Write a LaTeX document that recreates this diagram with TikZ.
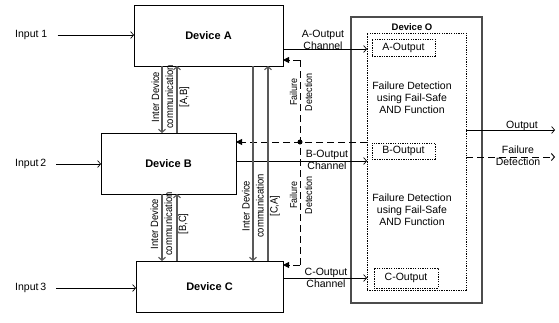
\documentclass[tikz,border=0pt]{standalone}
\usepackage{fontspec}
\setmainfont{Liberation Sans}
\newfontfamily\narrowfont[FakeStretch=0.9]{Liberation Sans}
\usetikzlibrary{arrows.meta}
\begin{document}
\begin{tikzpicture}[x=1pt,y=-1pt,
  dev/.style={draw, line width=0.8pt, rectangle, outer sep=0pt, inner sep=0pt, font=\fontsize{11}{13}\selectfont\bfseries},
  obox/.style={draw=black!70, line width=1.1pt, outer sep=0pt, inner sep=0pt},
  dotbox/.style={draw, dash pattern=on 1.3pt off 1.1pt, line width=0.75pt, outer sep=0pt, inner sep=0pt},
  lbl/.style={font=\fontsize{10.5}{12}\selectfont, align=center, inner sep=0pt},
  vlbl/.style={font=\narrowfont\fontsize{10.5}{14}\selectfont, align=center, rotate=90, inner sep=0pt},
  flbl/.style={font=\narrowfont\fontsize{10}{15}\selectfont, align=center, rotate=90, inner sep=0pt},
  arr/.style={line width=0.7pt, -{Straight Barb[length=3pt,width=7pt]}},
  comm/.style={draw=black!65, line width=1.1pt, -{Straight Barb[length=3pt,width=7pt]}},
  fdash/.style={line width=0.9pt, dash pattern=on 7pt off 4pt},
  ftip/.style={-{Triangle[length=6pt,width=6pt]}},
]
\useasboundingbox[fill=white] (0,0) rectangle (559,322);

% devices
\node[dev, minimum width=149pt, minimum height=61pt] (A) at (208.5,35.5) {Device A};
\node[dev, minimum width=135pt, minimum height=61pt] (B) at (168.5,163.5) {Device B};
\node[dev, minimum width=147pt, minimum height=51pt] (C) at (209.5,286.5) {Device C};

% device O
\node[obox, minimum width=131pt, minimum height=286pt] (O) at (416.5,160) {};
\node[dotbox, minimum width=99pt, minimum height=257pt] (Oin) at (416.5,161.5) {};
\node[font=\fontsize{9.5}{11}\selectfont\bfseries, inner sep=0pt] (Ot) at (412,27) {Device O};
\node[dotbox, lbl, minimum width=63pt, minimum height=17pt] (Aout) at (403.5,47.5) {A-Output};
\node[dotbox, lbl, minimum width=63pt, minimum height=16pt] (Bout) at (403.5,151) {B-Output};
\node[dotbox, lbl, minimum width=64pt, minimum height=20pt] (Cout) at (406,278) {C-Output};
\node[lbl] (fd1) at (412,98) {Failure Detection\\using Fail-Safe\\AND Function};
\node[lbl] (fd2) at (412,210) {Failure Detection\\using Fail-Safe\\AND Function};

% inputs
\node[lbl, anchor=west] (in1) at (15,35) {Input 1};
\node[lbl, anchor=west] (in2) at (15,164) {Input\,2};
\node[lbl, anchor=west] (in3) at (15,288) {Input\,3};
\draw[arr, shorten <=10pt] (in1.east) -- (A.west |- in1.east);
\draw[arr, shorten <=10pt] (in2.east) -- (B.west |- in2.east);
\draw[arr, shorten <=10pt] (in3.east) -- (C.west |- in3.east);

% output channels
\coordinate (ya) at (0,49);
\coordinate (yb) at (0,161);
\coordinate (yc) at (0,278);
\draw[arr] (A.east|-ya) -- (Oin.west|-ya);
\draw[arr] (B.east|-yb) -- (Oin.west|-yb);
\draw[arr] (C.east|-yc) -- (Oin.west|-yc);
\node[lbl] (la) at (323,39.5) {A-Output\\Channel};
\node[lbl] (lb) at (327,159.5) {B-Output\\Channel};
\node[lbl] (lc) at (326,278) {C-Output\\Channel};

% outputs of O
\coordinate (yo) at (555,130);
\coordinate (yf) at (555,157);
\draw[arr] (Oin.east|-yo) -- (yo);
\node[lbl, anchor=base] (lo) at (522,128) {Output};
\draw[arr, fdash] (Oin.east|-yf) -- (yf);
\node[lbl] (lf) at (518,156) {Failure\\Detection};

% failure detection feedback
\coordinate (fa) at (300,60);
\coordinate (fb) at (300,142);
\coordinate (fc) at (300,265);
\draw[fdash] (fa) -- (fc);
\draw[fdash, ftip] (fa) -- (A.east|-fa);
\draw[fdash, ftip] (fc) -- (C.east|-fc);
\draw[fdash, ftip] (Oin.west|-fb) -- (B.east|-fb);
\node[circle, fill, inner sep=0pt, minimum size=5pt] (dot) at (fb) {};
\node[flbl] (ff1) at (301,92) {Failure\\Detection};
\node[flbl] (ff2) at (301,195) {Failure\\Detection};

% inter device communication
\coordinate (x1) at (162,0);
\coordinate (x2) at (177,0);
\coordinate (x3) at (253,0);
\coordinate (x4) at (268,0);
\draw[comm] (A.south -| x1) -- (B.north -| x1);
\draw[comm] (B.north -| x2) -- (A.south -| x2);
\draw[comm] (B.south -| x1) -- (C.north -| x1);
\draw[comm] (C.north -| x2) -- (B.south -| x2);
\draw[comm] (A.south -| x3) -- (C.north -| x3);
\draw[comm] (C.north -| x4) -- (A.south -| x4);
\node[vlbl] (lab) at (170.5,97) {Inter Device\\communication\\{[A,B]}};
\node[vlbl] (lbc) at (169.5,224) {Inter Device\\communication\\{[B,C]}};
\node[vlbl] (lca) at (261,206) {Inter Device\\communication\\{[C,A]}};
\end{tikzpicture}
\end{document}
